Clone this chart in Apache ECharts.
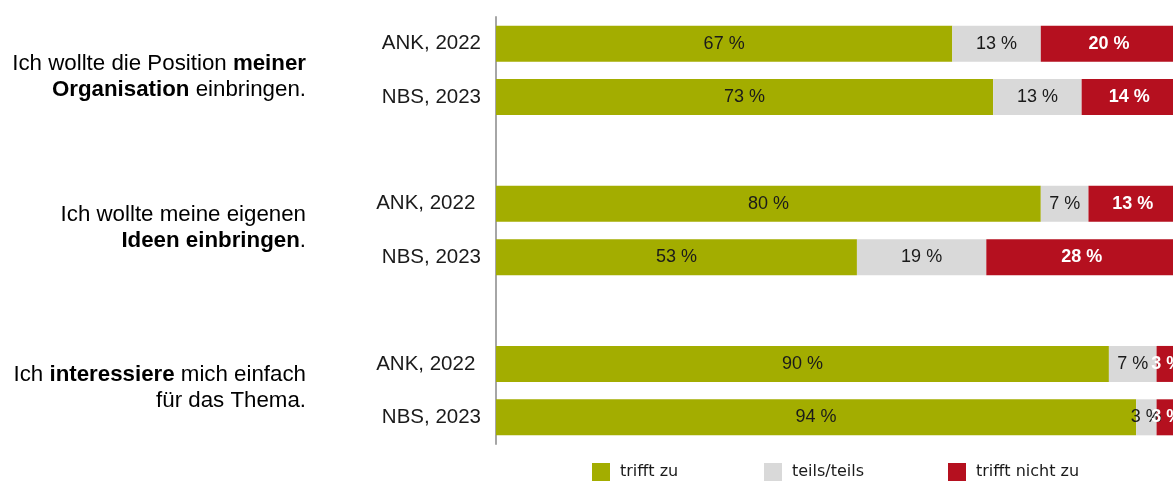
<!DOCTYPE html>
<html>
<head>
<meta charset="utf-8">
<script src="https://cdn.jsdelivr.net/npm/echarts@6/dist/echarts.min.js"></script>
<style>
  html, body { margin: 0; padding: 0; background: #ffffff; }
  #chart { width: 1173px; height: 482px; }
</style>
</head>
<body>
<div id="chart"></div>
<script>
// Row labels on the category axis (empty strings are spacer rows between groups)
const rowLabels = ['ANK, 2022', 'NBS, 2023', '', 'ANK, 2022 ', 'NBS, 2023', '', 'ANK, 2022 ', 'NBS, 2023'];

// Shares in percent per row (null = spacer row)
const triffZu      = [67, 73, null, 80, 53, null, 90, 94];
const teilsTeils   = [13, 13, null, 7, 19, null, 7, 3];
const trifftNicht  = [20, 14, null, 13, 28, null, 3, 3];

const seriesNames = ['trifft zu', 'teils/teils', 'trifft nicht zu'];
const seriesColors = ['#a3ad00', '#d9d9d9', '#b5101f'];

// Statement texts for each group of two rows (rich text: n = normal, b = bold)
const groupTexts = [
  '{n|Ich wollte die Position }{b|meiner}\n{b|Organisation}{n| einbringen.}',
  '{n|Ich wollte meine eigenen}\n{b|Ideen einbringen}{n|.}',
  '{n|Ich }{b|interessiere}{n| mich einfach}\n{n|für das Thema.}'
];
// Rows each statement belongs to
const groupRows = [[0, 1], [3, 4], [6, 7]];
const groupOffsets = [6, -3, -3];

const FONT = '"Liberation Sans", Arial, Helvetica, sans-serif';

const chart = echarts.init(document.getElementById('chart'));

function makeSeries(name, values, color, labelColor, bold) {
  return {
    name: name,
    type: 'bar',
    stack: 'total',
    barWidth: 36,
    data: values.map(v => (v === null ? '-' : v)),
    itemStyle: { color: color },
    label: {
      show: true,
      position: 'inside',
      formatter: p => p.value + ' %',
      color: labelColor,
      fontFamily: FONT,
      fontSize: 18,
      fontWeight: bold ? 'bold' : 'normal'
    },
    emphasis: { disabled: true }
  };
}

function makeLegend(name, left) {
  return {
    data: [name],
    left: left,
    top: 463,
    padding: 0,
    itemWidth: 18,
    itemHeight: 18,
    icon: 'rect',
    selectedMode: false,
    textStyle: {
      fontFamily: '"DejaVu Sans", Verdana, sans-serif',
      fontSize: 16,
      color: '#1a1a1a',
      padding: [3, 0, 0, 5]
    }
  };
}

chart.setOption({
  animation: false,
  backgroundColor: '#ffffff',
  grid: { left: 496, top: 17, width: 681, height: 427, outerBoundsMode: 'none', containLabel: false },
  legend: [
    makeLegend(seriesNames[0], 592),
    makeLegend(seriesNames[1], 764),
    makeLegend(seriesNames[2], 948)
  ],
  xAxis: {
    type: 'value',
    min: 0,
    max: 100,
    show: false
  },
  yAxis: {
    type: 'category',
    inverse: true,
    data: rowLabels,
    axisTick: { show: false },
    axisLine: { show: true, lineStyle: { color: '#a6a6a6', width: 2 } },
    axisLabel: {
      color: '#1a1a1a',
      fontFamily: FONT,
      fontSize: 20.5,
      margin: 15
    }
  },
  series: [
    makeSeries(seriesNames[0], triffZu, seriesColors[0], '#1a1a1a', false),
    makeSeries(seriesNames[1], teilsTeils, seriesColors[1], '#1a1a1a', false),
    makeSeries(seriesNames[2], trifftNicht, seriesColors[2], '#ffffff', true)
  ]
});

// Place the statement texts centred on their pair of rows
const textStyleRich = {
  n: { fontFamily: FONT, fontSize: 22.3, color: '#1a1a1a', lineHeight: 26 },
  b: { fontFamily: FONT, fontSize: 22.3, fontWeight: 'bold', color: '#1a1a1a', lineHeight: 26 }
};
const graphics = groupTexts.map((txt, i) => {
  const y0 = chart.convertToPixel({ yAxisIndex: 0 }, groupRows[i][0]);
  const y1 = chart.convertToPixel({ yAxisIndex: 0 }, groupRows[i][1]);
  return {
    type: 'text',
    x: 306,
    y: (y0 + y1) / 2 + groupOffsets[i],
    style: {
      text: txt,
      align: 'right',
      verticalAlign: 'middle',
      rich: textStyleRich
    }
  };
});
chart.setOption({ graphic: graphics });
</script>
</body>
</html>
